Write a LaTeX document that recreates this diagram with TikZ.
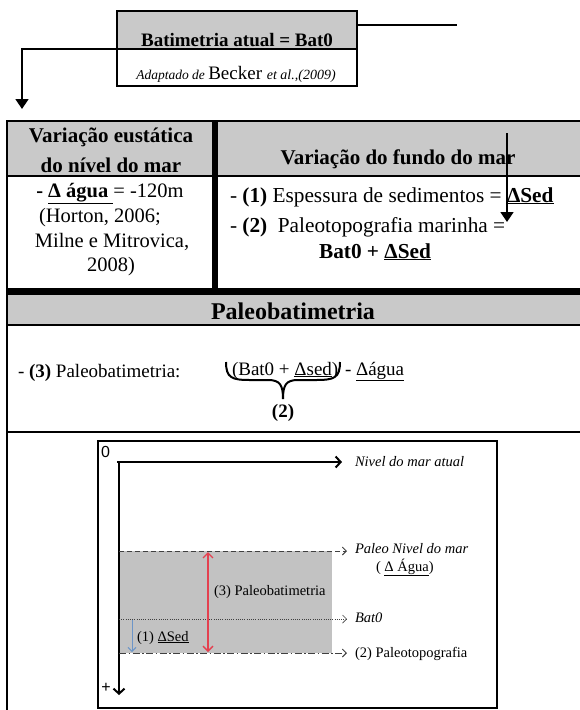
\documentclass[tikz,border=0pt]{standalone}
\usepackage{fontspec}
\setmainfont{Liberation Serif}
\newfontfamily\sansf{Liberation Sans}
\usetikzlibrary{arrows.meta}
\newcommand{\fsz}[1]{\fontsize{#1}{#1}\selectfont}
\definecolor{hgray}{HTML}{C9C9C9}
\definecolor{dgray}{HTML}{C2C2C2}
\definecolor{redarr}{HTML}{E4404F}
\definecolor{bluearr}{HTML}{6C95C8}
\definecolor{lgline}{HTML}{404040}
\begin{document}
\begin{tikzpicture}[x=1pt,y=-1pt,
  blkarrow/.style={line width=1.5pt,-{Triangle[length=10pt,width=13pt]}},
  axisarrow/.style={line width=2pt,-{Straight Barb[length=5pt,width=11pt,line width=2pt]}},
  levelarrow/.style={lgline,line width=0.9pt,-{Straight Barb[length=4pt,width=8pt]}},
  txt/.style={inner sep=0pt,outer sep=0pt},
  hdr/.style={txt,font=\fsz{21}\bfseries},
  body/.style={txt,font=\fsz{20.5}},
  rbody/.style={txt,font=\fsz{21.3}},
  small/.style={txt,font=\fsz{14.5}}]
\useasboundingbox (0,0) rectangle (580,710);

% ---------- top box
\fill[hgray] (117,11) rectangle (357,49);
\draw[line width=1.5pt] (117,11) rectangle (357,86);
\draw[line width=1.5pt] (117,49) -- (357,49);
\node[txt,anchor=base,font=\fsz{19}\bfseries] (bat0title) at (237,46) {Batimetria atual = Bat0};
\node[txt,anchor=base] (source) at (236,79) {{\fsz{13.5}\itshape Adaptado de }{\fsz{19}Becker }{\fsz{14}\itshape et al.,(2009)}};
\coordinate (trA) at (357,25);
\coordinate (trB) at (457,25);
\draw[line width=1.5pt] (trA) -- (trB);
\coordinate (tlA) at (117,49);
\coordinate (tlB) at (22,109);
\draw[blkarrow] (tlA) -| (tlB);

% ---------- table
\fill[hgray] (7,121) rectangle (581,176);
\fill[hgray] (7,295) rectangle (581,325);
\draw[line width=2.5pt] (7,121) -- (581,121);
\draw[line width=2pt] (7,176) -- (581,176);
\draw[line width=7pt] (7,291.5) -- (581,291.5);
\draw[line width=2pt] (7,325) -- (581,325);
\draw[line width=1.5pt] (7,432) -- (581,432);
\draw[line width=6pt] (215,121) -- (215,289);
\draw[line width=2.5pt] (7,120) -- (7,711);

\node[hdr,anchor=base] (h1a) at (111,142) {Variação eustática};
\node[hdr,anchor=base] (h1b) at (111,172) {do nível do mar};
\node[hdr,anchor=base] (h2) at (398,164) {Variação do fundo do mar};

\node[body,anchor=base] (l1) at (110,197) {\textbf{- \underline{Δ água }}= -120m};
\node[body,anchor=base] (l2) at (100,222) {(Horton, 2006;};
\node[body,anchor=base] (l3) at (112,247) {Milne e Mitrovica,};
\node[body,anchor=base] (l4) at (111,271) {2008)};

\node[rbody,anchor=base west] (r1) at (230,202) {- \textbf{(1)} Espessura de sedimentos = \textbf{\underline{ΔSed}}};
\node[rbody,anchor=base west] (r2) at (230,232) {- \textbf{(2)}\ \ Paleotopografia marinha =};
\node[rbody,anchor=base] (r3) at (375,258) {\textbf{Bat0 + \underline{ΔSed}}};
\coordinate (raA) at (507,133);
\coordinate (raB) at (507,222);
\draw[blkarrow] (raA) -- (raB);

\node[txt,anchor=base,font=\fsz{24}\bfseries] (pbhdr) at (293,319) {Paleobatimetria};
\node[txt,anchor=base west,font=\fsz{19}] (p3) at (18,377) {- \textbf{(3)} Paleobatimetria:};
\node[txt,anchor=base west,font=\fsz{19}] (f1) at (232,375) {(Bat0 + \underline{Δsed})};
\node[txt,anchor=base west,font=\fsz{19}] (f2) at (345,375) {- \underline{Δágua}};
\draw[line width=2pt] (226,362) .. controls (226,378) and (232,380) .. (250,380) -- (268,380)
   .. controls (280,380) and (283,385) .. (283,399);
\draw[line width=2pt] (340,362) .. controls (340,378) and (334,380) .. (316,380) -- (298,380)
   .. controls (286,380) and (283,385) .. (283,399);
\node[txt,anchor=base,font=\fsz{19}\bfseries] (two) at (283,417) {(2)};

% ---------- lower diagram
\draw[line width=2.5pt] (98,441) rectangle (497,708);
\node[txt,anchor=base west,font=\sansf\fsz{16}] (zero) at (101,457) {0};
\node[txt,font=\sansf\fsz{16}] (plus) at (106,688) {+};
\fill[dgray] (119,551) rectangle (332,653);
\coordinate (org) at (119,462);
\coordinate (xend) at (342,462);
\coordinate (yend) at (119,695);
\draw[axisarrow] (117,462) -- (xend);
\draw[axisarrow] (org) -- (yend);

\coordinate (pnA) at (119,551);
\coordinate (pnB) at (347,551);
\coordinate (bA) at (119,619);
\coordinate (bB) at (347,619);
\coordinate (ptA) at (119,653);
\coordinate (ptB) at (347,653);
\draw[levelarrow,dash pattern=on 5pt off 3pt] (pnA) -- (pnB);
\draw[levelarrow,line width=0.7pt,dash pattern=on 1pt off 1.2pt] (bA) -- (bB);
\draw[levelarrow,dash pattern=on 7pt off 2.5pt on 1.5pt off 2.5pt] (ptA) -- (ptB);

\coordinate (rdA) at (208,552);
\coordinate (rdB) at (208,652);
\draw[redarr,line width=1.3pt,{Straight Barb[length=5pt,width=10pt]}-{Straight Barb[length=5pt,width=10pt]}] (rdA) -- (rdB);
\coordinate (blA) at (132,620);
\coordinate (blB) at (132,652);
\draw[bluearr,line width=1pt,-{Straight Barb[length=4pt,width=8pt]}] (blA) -- (blB);

\node[small,anchor=base west,font=\fsz{14.5}\itshape] (nma) at (355,466) {Nivel do mar atual};
\node[small,anchor=base west,font=\fsz{14.5}\itshape] (pnm) at (355,553) {Paleo Nivel do mar};
\node[small,anchor=base west] (dag) at (376,571) {( \underline{Δ Água})};
\node[small,anchor=base west,font=\fsz{14.5}\itshape] (bt0) at (355,622) {Bat0};
\node[small,anchor=base west] (ptg) at (355,657) {(2) Paleotopografia};
\node[small,anchor=base west] (pbt) at (214,595) {(3) Paleobatimetria};
\node[small,anchor=base west] (dsed) at (137,641) {(1) \underline{ΔSed}};
\end{tikzpicture}
\end{document}
